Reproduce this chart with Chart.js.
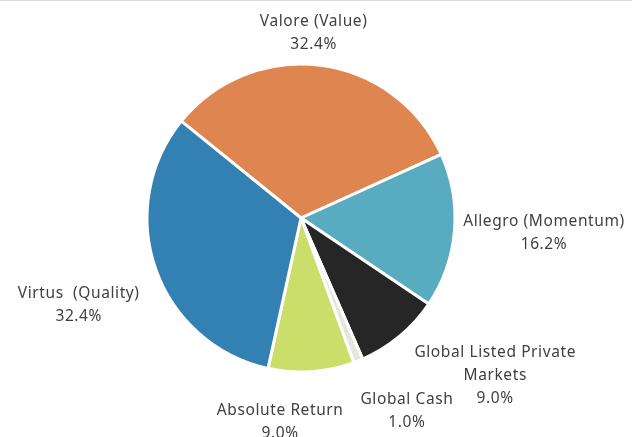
<!DOCTYPE html>
<html>
<head>
<meta charset="utf-8">
<script src="https://cdn.jsdelivr.net/npm/chart.js@4.4.1/dist/chart.umd.min.js"></script>
<style>
  html, body { margin: 0; padding: 0; background: #fff; }
  #wrap { position: relative; width: 632px; height: 437px; }
  #topline { position: absolute; left: 0; top: 0; width: 632px; height: 1px; background: #d9d9d9; }
</style>
</head>
<body>
<div id="wrap">
  <canvas id="chart" width="632" height="437"></canvas>
  <div id="topline"></div>
</div>
<script>
const labels = [
  'Valore (Value)',
  'Allegro (Momentum)',
  ['Global Listed Private', 'Markets'],
  'Global Cash',
  'Absolute Return',
  'Virtus  (Quality)'
]
const values = [32.4, 16.2, 9.0, 1.0, 9.0, 32.4]
const colors = ['#de8550', '#59abbf', '#262626', '#e6e5df', '#cbde6a', '#3380b2']

// hand nudges for label boxes (the original had them dragged around)
const labelNudge = [[-15, 0], [0, 0], [38, 6], [28, 20], [-36, 18], [-11, 26]]

const outsideLabels = {
  id: 'outsideLabels',
  afterDatasetsDraw(chart) {
    const ctx = chart.ctx
    const meta = chart.getDatasetMeta(0)
    const lh = 23
    const gap = 9
    ctx.save()
    ctx.font = '15.5px "Noto Sans"'
    ctx.letterSpacing = '0.6px'
    ctx.fillStyle = '#404040'
    ctx.textAlign = 'center'
    ctx.textBaseline = 'middle'
    meta.data.forEach((arc, i) => {
      const { x, y, startAngle, endAngle, outerRadius } = arc.getProps(['x', 'y', 'startAngle', 'endAngle', 'outerRadius'], true)
      const mid = (startAngle + endAngle) / 2
      const cos = Math.cos(mid), sin = Math.sin(mid)
      const name = [].concat(labels[i])
      const lines = name.concat(values[i].toFixed(1) + '%')
      const w = Math.max(...lines.map(t => ctx.measureText(t).width))
      const h = lines.length * lh
      const px = x + cos * (outerRadius + gap)
      const py = y + sin * (outerRadius + gap)
      const cx = px + cos * w / 2 + labelNudge[i][0]
      const cy = py + sin * h / 2 + labelNudge[i][1]
      lines.forEach((t, j) => {
        ctx.fillText(t, cx, cy - h / 2 + lh * (j + 0.5))
      })
    })
    ctx.restore()
  }
}

new Chart(document.getElementById('chart').getContext('2d'), {
  type: 'pie',
  data: {
    labels: labels.map(l => [].concat(l).join(' ')),
    datasets: [{
      data: values,
      backgroundColor: colors,
      borderColor: '#ffffff',
      borderWidth: 3
    }]
  },
  options: {
    responsive: false,
    animation: false,
    rotation: -51,
    radius: 154,
    layout: { padding: { left: 0, right: 30, top: 0, bottom: 1 } },
    plugins: {
      legend: { display: false },
      tooltip: { enabled: false }
    }
  },
  plugins: [outsideLabels]
})
</script>
</body>
</html>
